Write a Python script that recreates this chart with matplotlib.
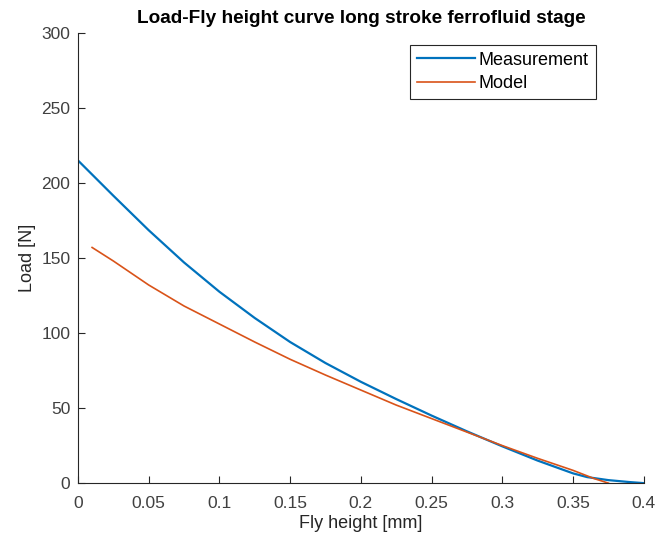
import matplotlib
matplotlib.use("Agg")
import matplotlib.pyplot as plt

plt.rcParams['font.family'] = ['Liberation Sans', 'DejaVu Sans']

# measurement curve (fly height in mm, load in N)
meas_h = [0, 0.025, 0.05, 0.075, 0.1, 0.125, 0.15, 0.175, 0.2, 0.225,
          0.25, 0.275, 0.3, 0.325, 0.35, 0.36, 0.375, 0.39, 0.4]
meas_load = [215, 191.5, 168.5, 147, 127.5, 110, 94, 80, 67.5, 56,
             45, 34.5, 24.5, 15, 6.5, 4, 2, 0.7, 0]

# model curve
model_h = [0.01, 0.025, 0.05, 0.075, 0.1, 0.125, 0.15, 0.175, 0.2, 0.225,
           0.25, 0.275, 0.3, 0.325, 0.35, 0.365, 0.375]
model_load = [157, 148, 132, 118, 106, 94, 82.5, 72, 62, 52,
              43, 34, 25, 16.5, 8.5, 3, 0]

xticks = [0, 0.05, 0.1, 0.15, 0.2, 0.25, 0.3, 0.35, 0.4]
xticklabels = ['0', '0.05', '0.1', '0.15', '0.2', '0.25', '0.3', '0.35', '0.4']
yticks = [0, 50, 100, 150, 200, 250, 300]

fig = plt.figure(figsize=(6.72, 5.38), dpi=100)
ax = fig.add_axes([0.116, 0.102, 0.842, 0.837])

ax.plot(meas_h, meas_load, color='#0072BD', lw=1.6, label='Measurement')
ax.plot(model_h, model_load, color='#D95319', lw=1.2, label='Model')

ax.set_xlim(0, 0.4)
ax.set_ylim(0, 300)
ax.set_xticks(xticks)
ax.set_xticklabels(xticklabels)
ax.set_yticks(yticks)

for s in ['top', 'right']:
    ax.spines[s].set_visible(False)
for s in ['left', 'bottom']:
    ax.spines[s].set_color('#262626')
    ax.spines[s].set_linewidth(0.8)
ax.tick_params(direction='in', length=5, width=0.8, color='#262626',
               labelcolor='#404040', labelsize=12.5)
ax.tick_params(axis='x', pad=9)
ax.tick_params(axis='y', pad=5.5)

ax.set_xlabel('Fly height [mm]', fontsize=13, color='#262626', labelpad=3)
ax.set_ylabel('Load [N]', fontsize=13, color='#262626')
ax.set_title('Load-Fly height curve long stroke ferrofluid stage',
             fontsize=13.7, fontweight='bold', color='black', pad=7)

leg = ax.legend(loc='upper right', bbox_to_anchor=(0.915, 0.974), fontsize=13,
                fancybox=False, framealpha=1, edgecolor='#262626',
                handlelength=3.2, handletextpad=0.2, borderpad=0.4,
                labelspacing=0.35, borderaxespad=0)
leg.get_frame().set_linewidth(0.8)

fig.savefig('out.png', dpi=100)
